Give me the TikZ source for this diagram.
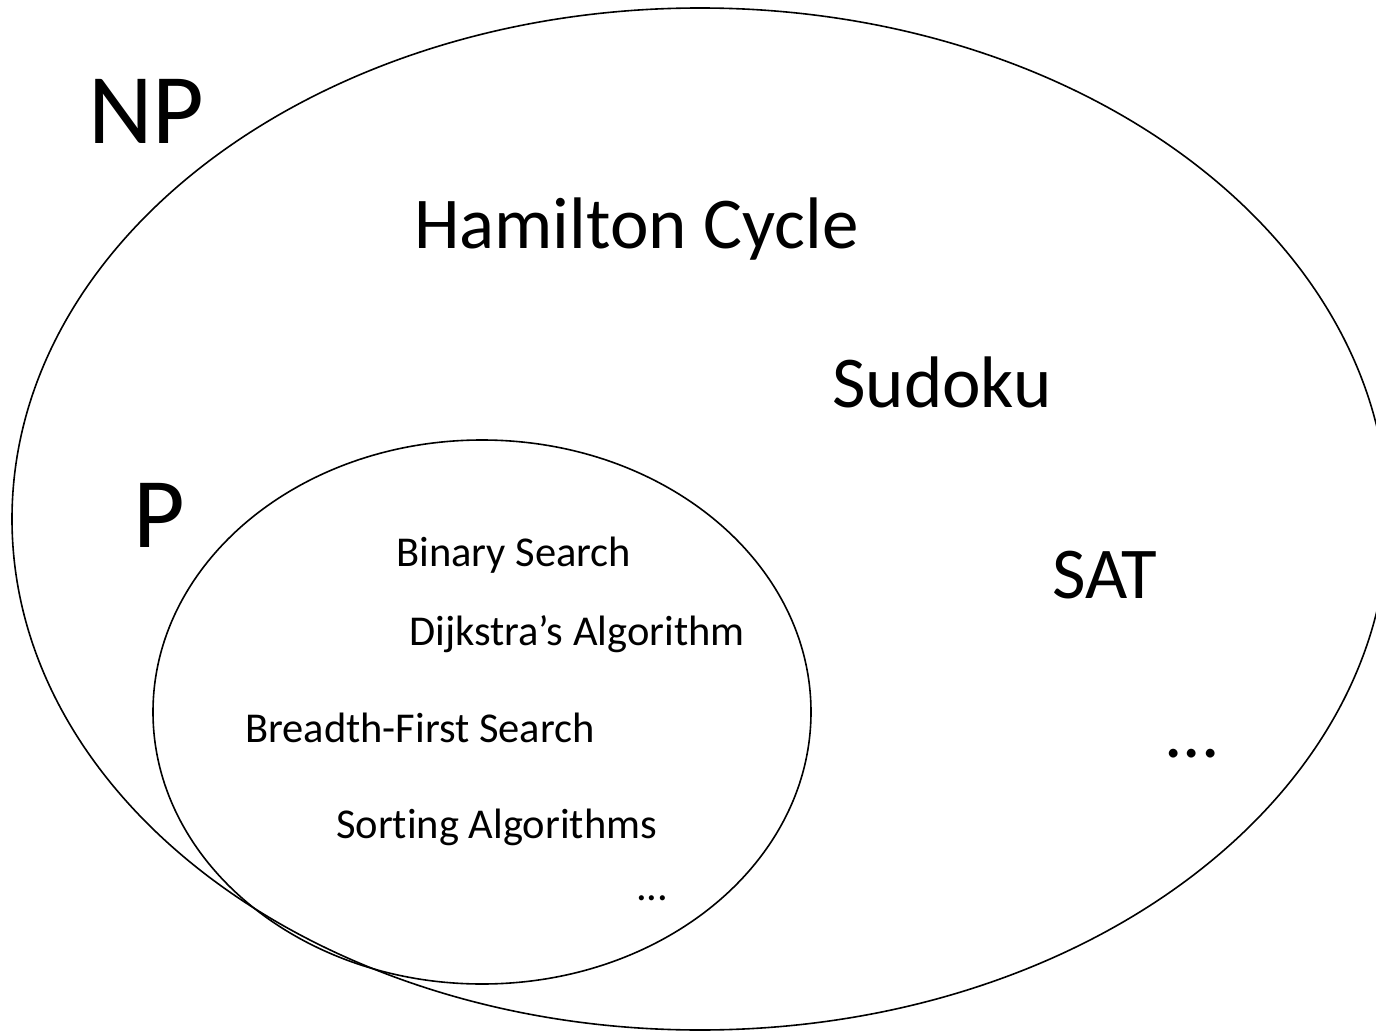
\documentclass[tikz,border=0pt]{standalone}
\usepackage{fontspec}
\setmainfont[Ligatures={NoCommon}]{Carlito}
\begin{document}
\begin{tikzpicture}[x=1pt,y=1pt,
  setline/.style={line width=1.6pt, black},
  huge/.style={font=\fontsize{100}{110}\selectfont, anchor=base west, inner sep=0pt},
  big/.style={font=\fontsize{73}{80}\selectfont, anchor=base west, inner sep=0pt},
  small/.style={font=\fontsize{42.5}{48}\selectfont, anchor=base west, inner sep=0pt}]
\useasboundingbox (0,0) rectangle (1376,-1032);
\clip (0,0) rectangle (1376,-1032);
\draw[setline] (700,-519) ellipse [x radius=688, y radius=511];
\draw[setline] (482,-712) ellipse [x radius=329, y radius=272];
\node[huge] (np) at (88,-144) {NP};
\node[huge] (p) at (133,-547) {P};
\node[big] (ham) at (414,-249) {Hamilton Cycle};
\node[big] (sud) at (832,-407) {Sudoku};
\node[big] (sat) at (1052,-598) {SAT};
\node[big] (dots1) at (1164,-757) {...};
\node[small] (bin) at (396,-566) {Binary Search};
\node[small] (dij) at (409,-645) {Dijkstra’s Algorithm};
\node[small] (bfs) at (245,-742) {Breadth-First Search};
\node[small] (sort) at (336,-838) {Sorting Algorithms};
\node[small] (dots2) at (636,-900) {...};
\end{tikzpicture}
\end{document}
